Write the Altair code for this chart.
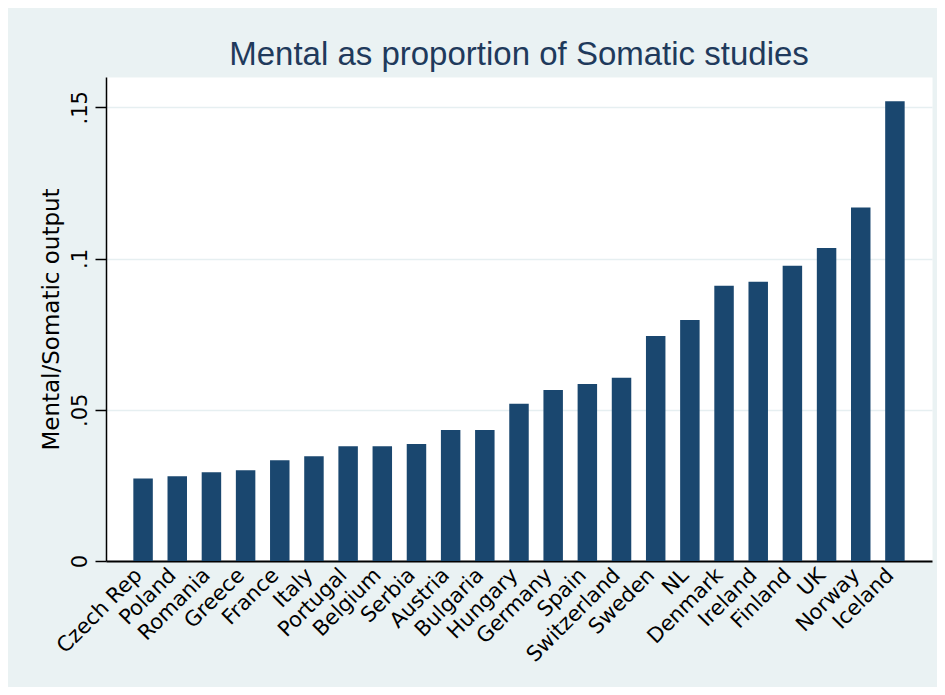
import altair as alt
import pandas as pd

countries = ["Czech Rep", "Poland", "Romania", "Greece", "France", "Italy",
             "Portugal", "Belgium", "Serbia", "Austria", "Bulgaria", "Hungary",
             "Germany", "Spain", "Switzerland", "Sweden", "NL", "Denmark",
             "Ireland", "Finland", "UK", "Norway", "Iceland"]
ratios = [0.0273, 0.0280, 0.0293, 0.0300, 0.0333, 0.0346,
          0.0379, 0.0379, 0.0387, 0.0433, 0.0433, 0.0520,
          0.0565, 0.0585, 0.0606, 0.0744, 0.0797, 0.0910,
          0.0923, 0.0976, 0.1035, 0.1169, 0.1520]
y_ticks = [0, 0.05, 0.10, 0.15]
y_tick_labels = ["0", ".05", ".1", ".15"]

title_text = "Mental as proportion of Somatic studies"
y_title = "Mental/Somatic output"

TITLE_FONT = "Liberation Sans"
AXIS_FONT = "DejaVu Sans"

# label expression built from the tick lists
expr = "'" + y_tick_labels[-1] + "'"
for v, lab in reversed(list(zip(y_ticks[:-1], y_tick_labels[:-1]))):
    expr = f"abs(datum.value - {v}) < 1e-6 ? '{lab}' : ({expr})"

df = pd.DataFrame({"country": countries, "ratio": ratios})

chart = alt.Chart(df).mark_bar(color="#1a476f").encode(
    x=alt.X(
        "country:N", sort=None, title=None,
        scale=alt.Scale(paddingInner=0.43, paddingOuter=0.8),
        axis=alt.Axis(
            labelAngle=315, labelAlign="right", labelBaseline="alphabetic",
            labelPadding=15, ticks=False, tickSize=0,
            domainColor="black", domainWidth=2,
            labelFont=AXIS_FONT, labelFontSize=21, labelColor="black",
            grid=False, labelOverlap=False,
        ),
    ),
    y=alt.Y(
        "ratio:Q", title=y_title,
        scale=alt.Scale(domain=[0, 0.16], nice=False, zero=True),
        axis=alt.Axis(
            values=y_ticks, labelExpr=expr, labelAngle=270,
            labelAlign="center", labelBaseline="alphabetic", labelPadding=9,
            labelFont=AXIS_FONT, labelFontSize=21, labelColor="black",
            tickSize=11, tickWidth=1.5, tickColor="black",
            domainColor="black", domainWidth=1.5,
            grid=True, gridColor="#e6eff1", gridWidth=1.5,
            titleFont=AXIS_FONT, titleFontSize=23, titleFontWeight="normal",
            titleColor="black", titleAngle=270, titleAlign="center",
            titleBaseline="alphabetic", titleX=-48, titleY=242,
        ),
    ),
).properties(
    width=826,
    height=484,
    title=alt.TitleParams(
        text=title_text, font=TITLE_FONT, fontSize=33, fontWeight="normal",
        color="#1f3a5c", anchor="middle", offset=5,
    ),
    autosize=alt.AutoSizeParams(type="none"),
    padding={"left": 98, "top": 69, "right": 5, "bottom": 126},
).configure(
    background="#eaf2f3",
).configure_view(
    fill="white", stroke="transparent",
)

chart.save("out.html", embed_options={"renderer": "svg", "actions": False})
